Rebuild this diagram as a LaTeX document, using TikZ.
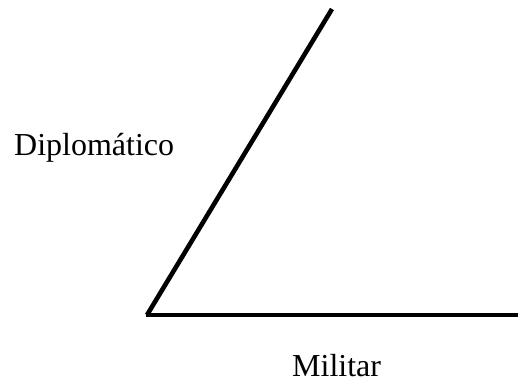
\documentclass[tikz,border=0pt]{standalone}
\usepackage{fontspec}
\setmainfont{Liberation Serif}
\usetikzlibrary{positioning}

\begin{document}
\begin{tikzpicture}[x=1pt, y=-1pt,
    axisline/.style={draw=black, line width=4.6pt, line cap=butt},
    axislabel/.style={inner sep=0pt, font=\fontsize{32}{38}\selectfont}]
    \useasboundingbox (0,0) rectangle (518,383);
    \coordinate (vertex) at (147,315);
    \coordinate (diptop) at (332,9);
    \coordinate (milend) at (518,315);
    \draw [axisline] (vertex) -- (diptop);
    \draw [axisline] (146,315) -- (milend);
    \node [axislabel, anchor=base west] (diplabel) at (14,155) {Diplomático};
    \node [axislabel, anchor=base west] (millabel) at (292,376) {Militar};
\end{tikzpicture}
\end{document}
